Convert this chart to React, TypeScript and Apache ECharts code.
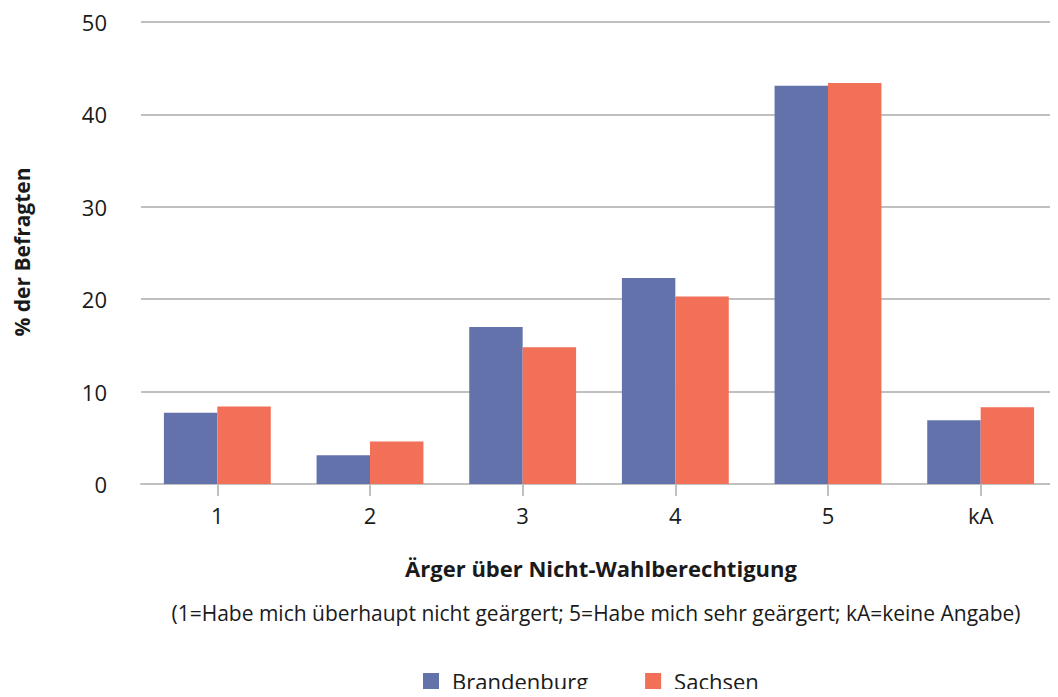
import React, { useEffect, useRef } from "react";
import * as echarts from "echarts";

const categories = ["1", "2", "3", "4", "5", "kA"];
const brandenburg = [7.7, 3.1, 17.0, 22.3, 43.1, 6.9];
const sachsen = [8.4, 4.6, 14.8, 20.3, 43.4, 8.3];
const yTicks = { min: 0, max: 50, interval: 10 };
const yAxisTitle = "% der Befragten";
const xAxisTitle = "Ärger über Nicht-Wahlberechtigung";
const note = "(1=Habe mich überhaupt nicht geärgert; 5=Habe mich sehr geärgert; kA=keine Angabe)";

const FONT = "'Open Sans', sans-serif";
const TEXT = "#1a1a1a";

export default function App() {
  const ref = useRef<HTMLDivElement>(null);
  useEffect(() => {
    if (!ref.current) return;
    const chart = echarts.init(ref.current, undefined, { renderer: "svg" });
    chart.setOption({
      animation: false,
      textStyle: { fontFamily: FONT },
      grid: { left: 141, right: 1, top: 22, bottom: 213, containLabel: false },
      xAxis: {
        type: "category",
        data: categories,
        axisLine: { lineStyle: { color: "#c0c0c0", width: 2 } },
        axisTick: { show: true, length: 12, lineStyle: { color: "#c0c0c0", width: 2 }, alignWithLabel: true },
        axisLabel: { color: TEXT, fontSize: 22, margin: 20, fontFamily: FONT },
      },
      yAxis: {
        type: "value",
        min: yTicks.min,
        max: yTicks.max,
        interval: yTicks.interval,
        axisLine: { show: false },
        axisTick: { show: false },
        splitLine: { lineStyle: { color: "#c0c0c0", width: 2 } },
        axisLabel: { color: TEXT, fontSize: 22, margin: 34, fontFamily: FONT },
      },
      legend: {
        top: 670,
        left: 423,
        padding: 0,
        icon: "rect",
        itemWidth: 16,
        itemHeight: 16,
        itemGap: 57,
        formatter: (name: string) => `{p|}${name}`,
        textStyle: {
          color: TEXT,
          fontSize: 22,
          fontFamily: FONT,
          rich: { p: { width: 8 } },
        },
        data: ["Brandenburg", "Sachsen"],
      },
      graphic: [
        {
          type: "text",
          x: 22,
          y: 252,
          rotation: Math.PI / 2,
          style: { text: yAxisTitle, align: "center", verticalAlign: "middle", fontSize: 21, fontWeight: "bold", fill: TEXT, fontFamily: FONT },
        },
        {
          type: "text",
          x: 601,
          y: 568,
          style: { text: xAxisTitle, align: "center", verticalAlign: "middle", fontSize: 22, fontWeight: "bold", fill: TEXT, fontFamily: FONT },
        },
        {
          type: "text",
          x: 596,
          y: 613,
          style: { text: note, align: "center", verticalAlign: "middle", fontSize: 21, fill: TEXT, fontFamily: FONT },
        },
      ],
      series: [
        {
          name: "Brandenburg",
          type: "bar",
          data: brandenburg,
          itemStyle: { color: "#6472ac" },
          barGap: "0%",
          barCategoryGap: "30%",
        },
        {
          name: "Sachsen",
          type: "bar",
          data: sachsen,
          itemStyle: { color: "#f26f58" },
          barGap: "0%",
          barCategoryGap: "30%",
        },
      ],
    });
    return () => chart.dispose();
  }, []);
  return <div ref={ref} style={{ width: 1058, height: 697, margin: -8 }} />;
}
